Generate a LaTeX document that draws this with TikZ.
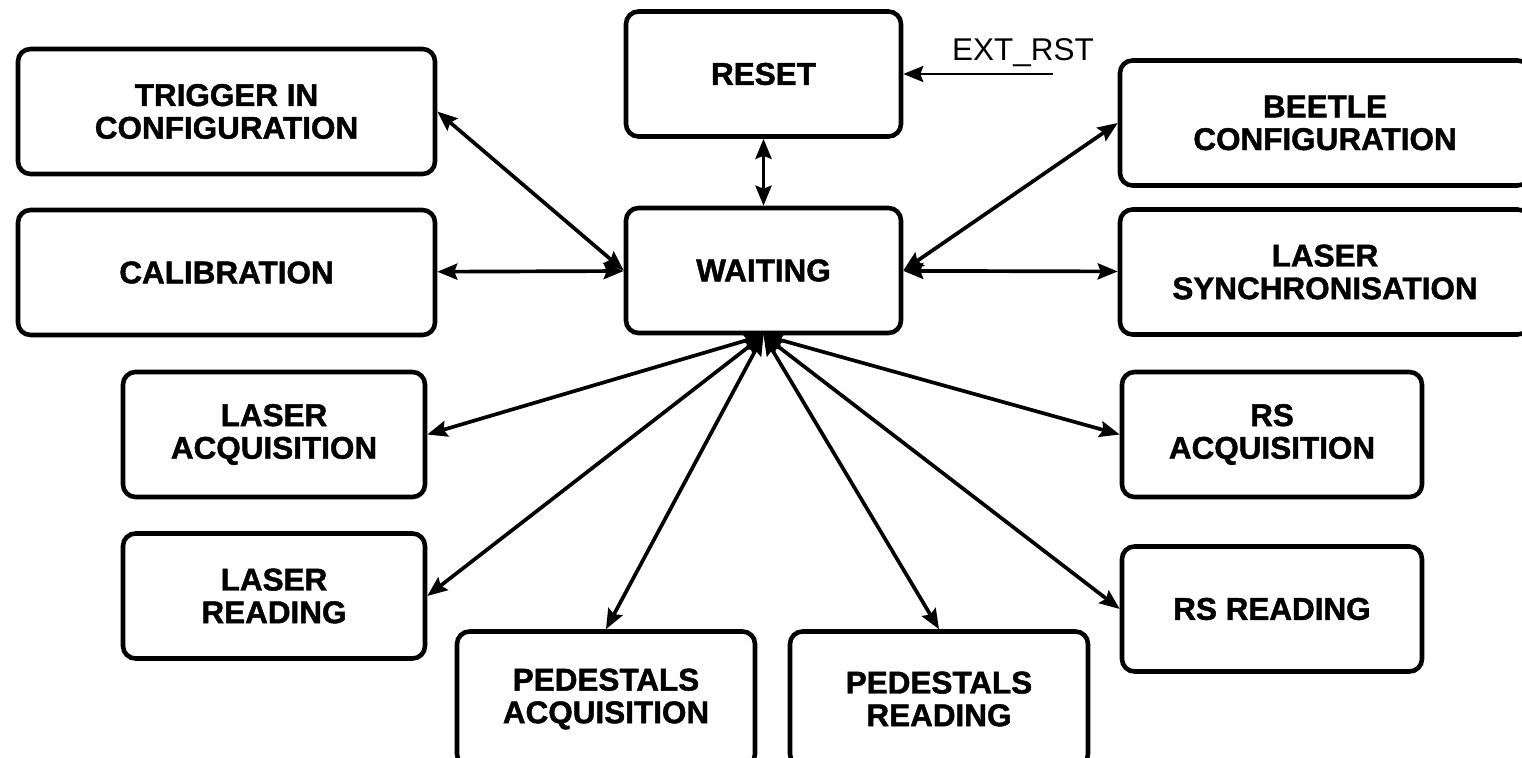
\documentclass[tikz,border=0pt]{standalone}
\usepackage{fontspec}
\setmainfont{Liberation Sans}[BoldFeatures={FakeBold=1.4}]
\usetikzlibrary{arrows.meta,positioning}

\begin{document}
\begin{tikzpicture}[>={Stealth[length=0.4cm,width=0.32cm,inset=0.06cm]},
  state/.style={draw, line width=2.6pt, rounded corners=0.25cm, minimum height=2.5cm, align=center, font=\fontsize{17.9}{18.6}\selectfont\bfseries},
  link/.style={<->, line width=2.1pt}]
  \useasboundingbox (0,0) rectangle (30.44,-15.16);
  % reset and waiting in the middle
  \node[state, minimum width=5.5cm] (reset) at (15.27,-1.48) {RESET};
  \node[state, minimum width=5.5cm] (waiting) at (15.27,-5.41) {WAITING};
  % external reset input
  \node[font=\fontsize{17.9}{18.6}\selectfont] (extlbl) at (20.46,-1.06) {EXT\_RST};
  \coordinate (ext) at (21.06,-1.48);
  % left side
  \node[state, minimum width=8.34cm] (trigger) at (4.53,-2.23) {TRIGGER IN\\CONFIGURATION};
  \node[state, minimum width=8.34cm] (calib) at (4.53,-5.45) {CALIBRATION};
  \node[state, minimum width=6.04cm] (lacq) at (5.48,-8.69) {LASER\\ACQUISITION};
  \node[state, minimum width=6.04cm] (lread) at (5.48,-11.92) {LASER\\READING};
  % right side
  \node[state, minimum width=8.2cm] (beetle) at (26.5,-2.46) {BEETLE\\CONFIGURATION};
  \node[state, minimum width=8.2cm] (lsync) at (26.5,-5.44) {LASER\\SYNCHRONISATION};
  \node[state, minimum width=6.0cm] (rsacq) at (25.44,-8.69) {RS\\ACQUISITION};
  \node[state, minimum width=6.0cm] (rsread) at (25.44,-12.18) {RS READING};
  % bottom row
  \node[state, minimum width=5.96cm, minimum height=2.7cm] (pacq) at (12.12,-13.98) {PEDESTALS\\ACQUISITION};
  \node[state, minimum width=5.96cm, minimum height=2.7cm] (pread) at (18.78,-13.98) {PEDESTALS\\READING};
  % transitions
  \draw[->, line width=1.5pt] (ext) -- (reset.east);
  \draw[link] (reset) -- (waiting);
  \draw[link] (trigger.east) -- (waiting.west);
  \draw[link] (calib) -- (waiting);
  \draw[link] (beetle.west) -- (waiting.east);
  \draw[link] (lsync) -- (waiting);
  \foreach \s in {lacq.east, lread.east, pacq.north, pread.north, rsacq.west, rsread.west}
    \draw[link] (waiting.south) -- (\s);
\end{tikzpicture}
\end{document}
